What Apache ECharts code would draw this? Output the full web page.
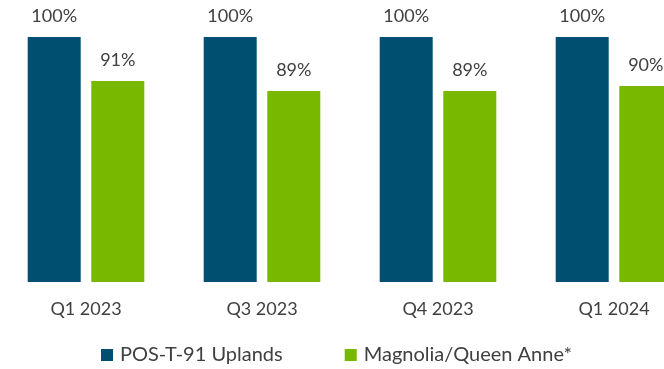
<!DOCTYPE html>
<html>
<head>
<meta charset="utf-8">
<style>
  html, body { margin: 0; padding: 0; background: #ffffff; overflow: hidden; width: 664px; height: 369px; position: relative; }
  /* plot area runs a little past the right edge so the last group is cut */
  #chart { position: absolute; left: -2px; top: 0; width: 704px; height: 369px; }
</style>
<script src="https://cdn.jsdelivr.net/npm/echarts@6/dist/echarts.min.js"></script>
</head>
<body>
<div id="chart"></div>
<script>
// Quarterly percentages for the two sites
const quarters = ['Q1 2023', 'Q3 2023', 'Q4 2023', 'Q1 2024'];
const uplandsValues = [100, 100, 100, 100];
const magnoliaValues = [91, 89, 89, 90];
const seriesNames = ['POS-T-91 Uplands', 'Magnolia/Queen Anne*'];

const textColor = '#404040';
const fontFamily = 'Lato, "Open Sans", sans-serif';

const chart = echarts.init(document.getElementById('chart'), null, { renderer: 'canvas' });

const valueLabel = {
  show: true,
  position: 'top',
  distance: 12,
  color: textColor,
  fontFamily: fontFamily,
  fontSize: 18,
  formatter: p => p.value + '%'
};

chart.setOption({
  animation: false,
  backgroundColor: '#ffffff',
  grid: { left: 0, right: 0, top: 37, bottom: 87, containLabel: false },
  legend: {
    left: 98,
    top: 340,
    itemWidth: 12,
    itemHeight: 12,
    itemGap: 62,
    icon: 'rect',
    textStyle: { color: textColor, fontFamily: fontFamily, fontSize: 20, padding: [0, 0, 0, 2] },
    data: seriesNames
  },
  xAxis: {
    type: 'category',
    data: quarters,
    axisLine: { show: false },
    axisTick: { show: false },
    axisLabel: { color: textColor, fontFamily: fontFamily, fontSize: 18, margin: 18 }
  },
  yAxis: {
    type: 'value',
    min: 50,
    max: 100,
    show: false,
    splitLine: { show: false }
  },
  series: [
    {
      name: seriesNames[0],
      type: 'bar',
      data: uplandsValues,
      barWidth: 53,
      barGap: '20%',
      itemStyle: { color: '#004f70' },
      label: valueLabel
    },
    {
      name: seriesNames[1],
      type: 'bar',
      data: magnoliaValues,
      barWidth: 53,
      barGap: '20%',
      itemStyle: { color: '#78b800' },
      label: valueLabel
    }
  ]
});
</script>
</body>
</html>
